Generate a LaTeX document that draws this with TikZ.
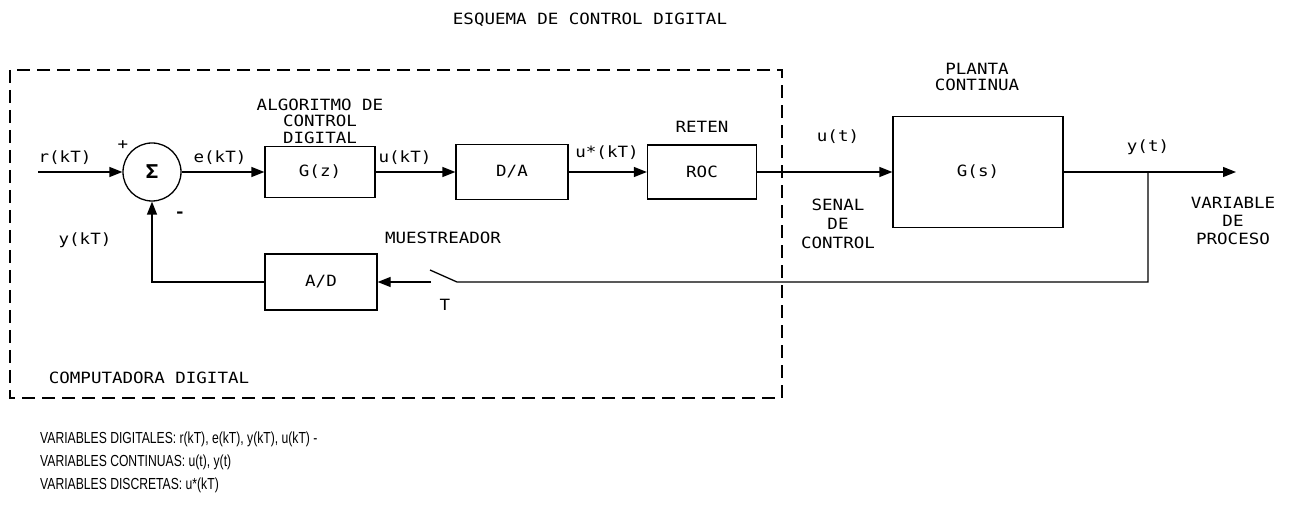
\documentclass[tikz,border=0pt]{standalone}
\usepackage{fontspec}
\usepackage{tikz}
\usetikzlibrary{arrows.meta}
\newfontfamily\plotfont[FakeStretch=1.13]{DejaVu Sans Mono}
\newfontfamily\notefont[FakeStretch=0.76]{Liberation Sans}

\begin{document}
\begin{tikzpicture}[x=1pt,y=-1pt,
    lbl/.style={font=\plotfont\fontsize{15.5}{16.5}\selectfont, inner sep=0pt, align=center},
    blk/.style={draw, line width=1.3pt, inner sep=0pt, font=\plotfont\fontsize{15.5}{16.5}\selectfont},
    sig/.style={line width=1.3pt, -{Triangle[length=13pt,width=10pt]}},
    note/.style={font=\notefont\fontsize{16}{16}\selectfont, inner sep=0pt, anchor=base west}]
      \useasboundingbox (0,0) rectangle (1294,510);
      \node[lbl] (title) at (590,20) {ESQUEMA DE CONTROL DIGITAL};
      % computadora
      \draw [line width=1.3pt, dash pattern=on 13pt off 7pt] (10,70) rectangle (782,398);
      \node[lbl] (comp) at (149,378) {COMPUTADORA DIGITAL};
      % bloques
      \node[blk, circle, minimum size=58pt, font=\plotfont\bfseries\fontsize{19}{19}\selectfont] (S) at (152,172) {Σ};
      \node[blk, minimum width=110pt, minimum height=51pt] (Gz) at (320,172) {G(z)};
      \node[blk, minimum width=112pt, minimum height=55pt] (DA) at (512,172) {D/A};
      \node[blk, minimum width=109pt, minimum height=54pt] (ROC) at (702,172) {ROC};
      \node[blk, minimum width=170pt, minimum height=111pt] (Gs) at (978,172) {G(s)};
      \node[blk, minimum width=112pt, minimum height=56pt] (AD) at (321,282) {A/D};
      \coordinate (in) at (38,172);
      \coordinate (br) at (1148,172);
      \coordinate (out) at (1236,172);
      \coordinate (fb) at (1148,282);
      \coordinate (sw1) at (457,282);
      \coordinate (sw2) at (430,270);
      \coordinate (sw0) at (431,282);
      % conexiones
      \draw [sig] (in) to (S);
      \draw [sig] (S) to (Gz);
      \draw [sig] (Gz) to (DA);
      \draw [sig] (DA) to (ROC);
      \draw [sig] (ROC) to (Gs);
      \draw [sig] (Gs) to (out);
      \draw [line width=1.3pt] (br) to (fb) to (sw1) to (sw2);
      \draw [sig] (sw0) to (AD);
      \draw [sig] (AD.west) -| (S.south);
      % etiquetas
      \node[lbl] (r) at (65,158) {r(kT)};
      \node[lbl] (plus) at (123,145) {+};
      \node[lbl, font=\plotfont\bfseries\fontsize{15.5}{16.5}\selectfont] (minus) at (180,215) {-};
      \node[lbl] (e) at (220,158) {e(kT)};
      \node[lbl] (alg) at (320,121) {ALGORITMO DE\\CONTROL\\DIGITAL};
      \node[lbl] (u) at (405,158) {u(kT)};
      \node[lbl] (us) at (607,153) {u*(kT)};
      \node[lbl] (ret) at (702,127) {RETEN};
      \node[lbl] (ut) at (838,137) {u(t)};
      \node[lbl, font=\plotfont\fontsize{15.5}{19}\selectfont] (sen) at (838,224) {SENAL\\DE\\CONTROL};
      \node[lbl] (pla) at (977,77) {PLANTA\\CONTINUA};
      \node[lbl] (yt) at (1148,147) {y(t)};
      \node[lbl, font=\plotfont\fontsize{15.5}{18}\selectfont] (var) at (1233,221) {VARIABLE\\DE\\PROCESO};
      \node[lbl] (ykt) at (85,240) {y(kT)};
      \node[lbl] (mue) at (443,238) {MUESTREADOR};
      \node[lbl] (T) at (445,305) {T};
      % notas
      \node[note] (n1) at (40,444) {VARIABLES DIGITALES: r(kT), e(kT), y(kT), u(kT) -};
      \node[note] (n2) at (40,467) {VARIABLES CONTINUAS: u(t), y(t)};
      \node[note] (n3) at (40,490) {VARIABLES DISCRETAS: u*(kT)};
\end{tikzpicture}
\end{document}
